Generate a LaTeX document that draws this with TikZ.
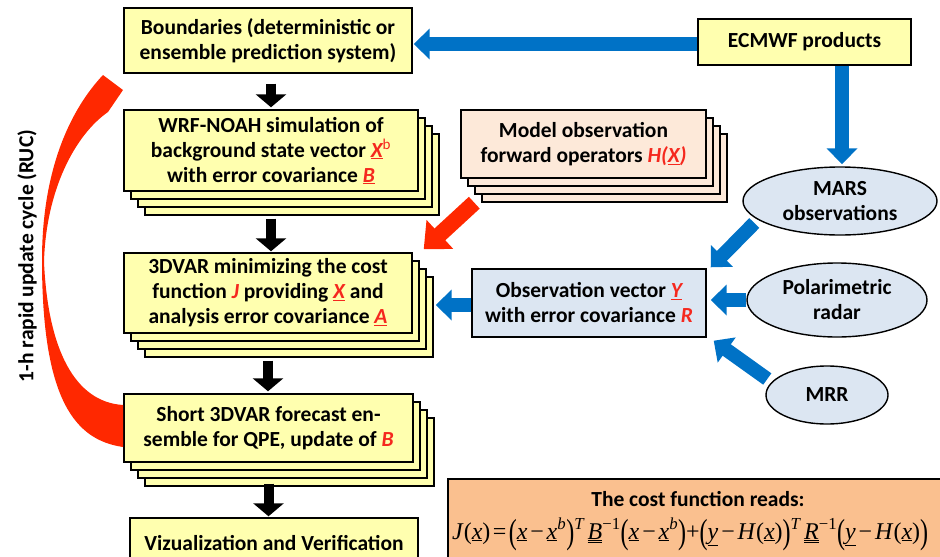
\documentclass[tikz,border=0pt]{standalone}
\usepackage{fontspec}
\setmainfont{Carlito}
\newfontfamily\eqfont{Liberation Serif}
\usetikzlibrary{arrows.meta,shapes.geometric,shadows,calc}
\definecolor{boxyellow}{RGB}{255,255,175}
\definecolor{hxpeach}{RGB}{253,233,217}
\definecolor{obsblue}{RGB}{220,230,242}
\definecolor{costpeach}{RGB}{250,192,143}
\definecolor{arrowblue}{RGB}{0,114,198}
\definecolor{arrowred}{RGB}{255,40,0}
\definecolor{textred}{RGB}{245,40,30}
\newcommand{\uvec}[1]{\underline{#1}}
\newcommand{\bigpar}[1]{\raisebox{-0.2em}{\scalebox{1}[1.45]{\textup{#1}}}}
\newcommand{\redit}[1]{\textcolor{textred}{\textit{#1}}}
\newcommand{\eqminus}{\hspace{0.12em}\textup{−}\hspace{0.12em}}

\begin{document}
\begin{tikzpicture}[x=1pt,y=-1pt]
\tikzstyle{every node}+=[inner sep=0pt, font=\bfseries\fontsize{21.5}{25}\selectfont]
\tikzstyle{flowbox}=[draw, line width=1.4pt, align=center, fill=boxyellow]
\tikzstyle{stack}=[copy shadow={shadow xshift=21pt,shadow yshift=-24pt}, copy shadow={shadow xshift=14pt,shadow yshift=-16pt}, copy shadow={shadow xshift=7pt,shadow yshift=-8pt}]
\tikzstyle{obsnode}=[draw, line width=1.4pt, ellipse, fill=obsblue, align=center]
\tikzstyle{bluearrow}=[color=arrowblue, line width=14pt, -{Triangle[width=30pt,length=16pt]}]
\tikzstyle{blackarrow}=[color=black, line width=10pt, -{Triangle[width=30pt,length=13pt]}]
\tikzstyle{redarrow}=[color=arrowred, line width=16pt, -{Triangle[width=38pt,length=22pt]}]

\useasboundingbox (0,0) rectangle (940,557);
\clip (0,0) rectangle (940,557);

\node[flowbox, minimum width=288pt, minimum height=65pt] (bound) at (268,40.5) {Boundaries (deterministic or\\ensemble prediction system)};
\node[flowbox, stack, minimum width=294pt, minimum height=81pt] (wrf) at (271,150.5) {WRF-NOAH simulation of\\background state vector \redit{\uvec{X}}\textcolor{textred}{\textsuperscript{\mdseries b}}\\with error covariance \redit{\uvec{B}}};
\node[flowbox, stack, minimum width=288pt, minimum height=80pt] (var) at (268,293) {3DVAR minimizing the cost\\function \redit{J} providing \redit{\uvec{X}} and\\analysis error covariance \redit{\uvec{A}}};
\node[flowbox, stack, minimum width=289pt, minimum height=68pt] (short) at (268.5,428) {Short 3DVAR forecast en-\\semble for QPE, update of \redit{B}};
\node[flowbox, minimum width=288pt, minimum height=50pt] (viz) at (274,543) {Vizualization and Verification};

\node[flowbox, minimum width=213pt, minimum height=46pt] (ecmwf) at (804.5,42) {ECMWF products};
\node[flowbox, stack, fill=hxpeach, minimum width=245pt, minimum height=68pt] (hx) at (583.5,144) {Model observation\\forward operators \redit{H(\uvec{X})}};
\node[flowbox, fill=obsblue, minimum width=234pt, minimum height=68pt] (obs) at (589,303) {Observation vector \redit{\uvec{Y}}\\with error covariance \redit{R}};
\node[obsnode, minimum width=194pt, minimum height=68pt] (mars) at (840,201) {MARS\\observations};
\node[obsnode, minimum width=180pt, minimum height=74pt] (polar) at (837,300) {Polarimetric\\radar};
\node[obsnode, minimum width=122pt, minimum height=58pt] (mrr) at (827,395) {MRR};

\node[draw, line width=1.4pt, fill=costpeach, minimum width=500pt, minimum height=91pt] (costbox) at (698,524.5) {};
\node (costtitle) at ($(costbox.north)+(0,21)$) {The cost function reads:};
\node[anchor=base west, font=\eqfont\itshape\fontsize{24}{28}\selectfont] (costeq) at (452,539) {J\textup{(}\uvec{x}\textup{)}\hspace{0.1em}\textup{=}\hspace{0.1em}\bigpar{(}\uvec{x}\eqminus\uvec{x}\textsuperscript{b}\bigpar{)}\textsuperscript{T}\hspace{0.15em}\uvec{\uvec{B}}\textsuperscript{\textup{−1}}\bigpar{(}\uvec{x}\eqminus\uvec{x}\textsuperscript{b}\bigpar{)}\textup{+}\bigpar{(}\uvec{y}\eqminus H\textup{(}\uvec{x}\textup{)}\bigpar{)}\textsuperscript{T}\hspace{0.15em}\uvec{\uvec{R}}\textsuperscript{\textup{−1}}\bigpar{(}\uvec{y}\eqminus H\textup{(}\uvec{x}\textup{)}\bigpar{)}};

\node[rotate=90] (ruc) at (27,256) {1-h rapid update cycle (RUC)};
\fill[arrowred] (123,447) .. controls (75,440) and (42,400) .. (42,260) .. controls (42,170) and (70,110) .. (103,75) -- (123,90) -- (108,112) .. controls (75,135) and (46,190) .. (44,262) .. controls (48,350) and (75,402) .. (123,405) -- cycle;

\draw[blackarrow] ($(bound.south -| wrf.north)+(0,10)$) -- ($(wrf.north)+(0,-2)$);
\draw[blackarrow] ($(wrf.south)+(0,27)$) -- ($(wrf.south |- var.north)+(0,-1)$);
\draw[blackarrow] ($(var.south)+(0,27)$) -- ($(var.south |- short.north)+(0,-2)$);
\draw[blackarrow] ($(short.south)+(0,21)$) -- ($(short.south |- viz.north)+(0,-1)$);

\draw[bluearrow] ($(ecmwf.west)+(0,2)$) -- ($(ecmwf.west -| bound.east)+(1,2)$);
\draw[bluearrow] ($(ecmwf.south -| mars.north)+(2,0)$) -- ($(mars.north)+(2,-2)$);
\draw[bluearrow] ($(mars.west)+(12,22)$) -- ($(obs.north east)+(4,-1)$);
\draw[bluearrow] (polar.west) -- ($(polar.west -| obs.east)+(4,0)$);
\draw[bluearrow] ($(mrr.west)+(2,-16)$) -- ($(obs.south east)+(7,3)$);
\draw[bluearrow] ($(obs.west)+(0,2)$) -- ($(obs.west -| var.east)+(23,2)$);

\draw[redarrow] ($(hx.south west)+(14,24)$) -- ($(var.north east)+(11,-3)$);
\end{tikzpicture}
\end{document}
